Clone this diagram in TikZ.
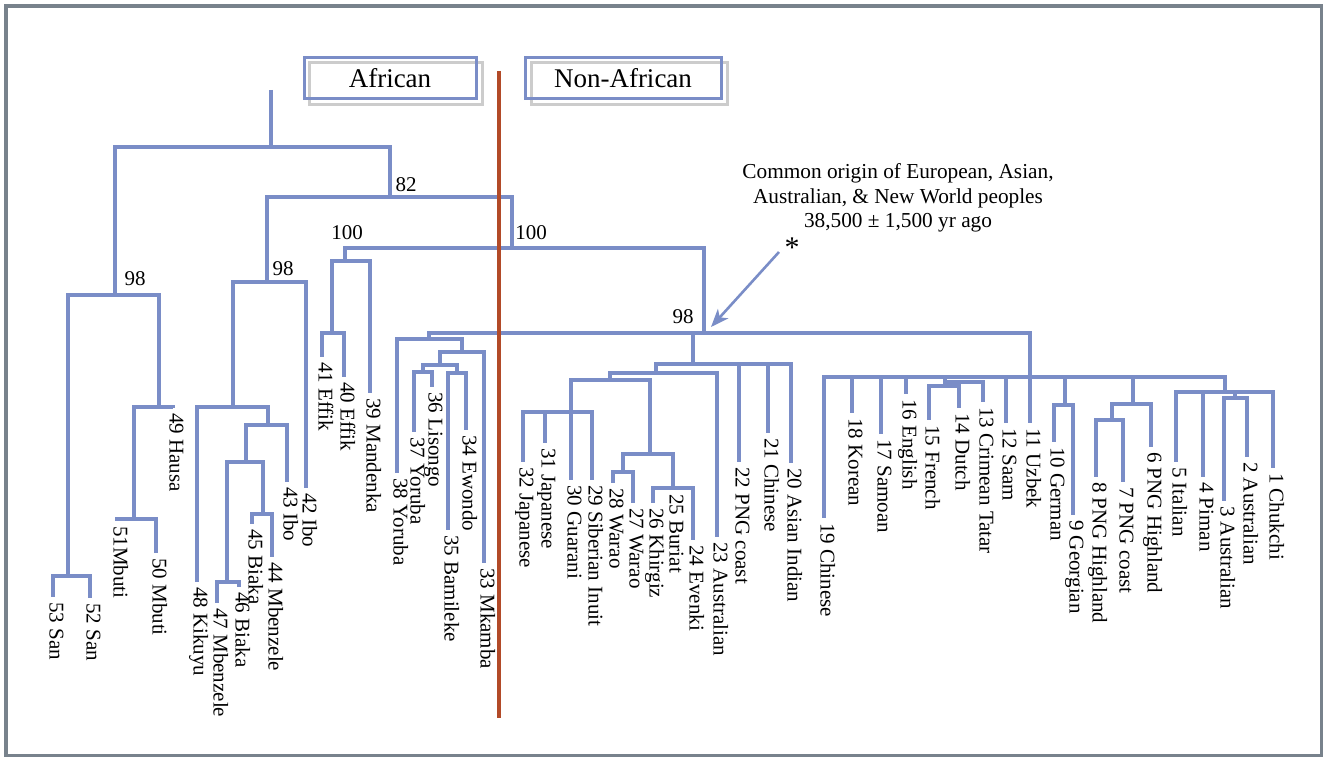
\documentclass[tikz,border=0pt]{standalone}
\usepackage{fontspec}
\setmainfont{Liberation Serif}
\usetikzlibrary{arrows.meta}
\definecolor{treeblue}{RGB}{122,141,199}
\definecolor{divred}{RGB}{178,74,40}
\definecolor{framegray}{RGB}{120,130,140}
\definecolor{shadowgray}{RGB}{204,204,204}
\newcommand{\leafpt}[4]{\coordinate (#1) at (#2,#3); \node[lbl] (#1t) at (#1) {#4};}
\newcommand{\junc}[3]{\coordinate (#1) at (#2,#3);}
\newcommand{\edgeto}[2]{\foreach \cc in {#2} {\draw[tree] (#1) -| (\cc);}}
\tikzset{
  tree/.style={draw=treeblue, line width=3.1pt},
  lbl/.style={rotate=-90, anchor=west, inner xsep=5pt, inner ysep=0pt, text height=0.68em, text depth=0pt, font=\fontsize{21}{24}\selectfont},
  num/.style={font=\fontsize{21}{24}\selectfont, inner sep=0pt},
  starlbl/.style={font=\fontsize{30}{32}\selectfont, inner sep=0pt},
  note/.style={font=\fontsize{21.3}{24.5}\selectfont, inner sep=0pt, align=center},
  boxlbl/.style={draw=treeblue, line width=3pt, font=\fontsize{27}{30}\selectfont, minimum height=41pt, inner sep=0pt},
  shadowbox/.style={draw=shadowgray, line width=3pt},
  divider/.style={draw=divred, line width=4pt},
  frame/.style={draw=framegray, line width=3.5pt},
  pointer/.style={draw=treeblue, line width=2.6pt, -{Stealth[length=18pt,width=14pt,inset=5pt]}}
}
\begin{document}
\begin{tikzpicture}[x=1pt,y=-1pt]
\useasboundingbox (0,0) rectangle (1323,757);
\draw[frame] (6,6) rectangle (1321.5,755.5);

% boxes
\draw[shadowbox] (309,63) rectangle (482,105);
\draw[shadowbox] (531,63) rectangle (727,105);
\node[boxlbl, minimum width=172pt] (afr) at (390,78.5) {African};
\node[boxlbl, minimum width=196pt] (nafr) at (623,78.5) {Non-African};

% junctions
\junc{top}{271}{90}
\junc{R}{271}{147}
\junc{A1}{115}{295}
\junc{A2}{390}{197}
\junc{S}{68}{576}
\junc{H}{159}{407}
\junc{M}{134}{519}
\junc{B}{267}{282}
\junc{C}{512}{248}
\junc{D}{233}{407}
\junc{E}{268}{425}
\junc{F}{246}{462}
\junc{G}{227}{582}
\junc{K}{263}{514}
\junc{W}{345}{261}
\junc{X}{332}{333}
\junc{NA}{704}{333}
\junc{Ya}{429}{339}
\junc{Yb}{462}{352}
\junc{Yc}{440}{365}
\junc{Yd}{423}{372}
\junc{Ye}{457}{373}
\junc{Za}{693}{364}
\junc{Zb}{656}{373}
\junc{Zc}{610}{380}
\junc{Zd}{571}{412}
\junc{Ze}{650}{454}
\junc{Zf}{623}{472}
\junc{Zg}{673}{488}
\junc{Q}{1030}{377}
\junc{Pa}{945}{382}
\junc{Pb}{945}{386}
\junc{Pc}{1065}{405}
\junc{Pd}{1133}{404}
\junc{Pe}{1112}{420}
\junc{Pf}{1225}{392}
\junc{Pg}{1235}{398}

% leaves
\leafpt{l53}{53}{597}{53 San}
\leafpt{l52}{90}{598}{52 San}
\leafpt{l51}{117}{521}{51Mbuti}
\leafpt{l50}{156}{553}{50 Mbuti}
\leafpt{l49}{173}{408}{49 Hausa}
\leafpt{l48}{197}{582}{48 Kikuyu}
\leafpt{l47}{217}{603}{47 Mbenzele}
\leafpt{l46}{239}{587}{46 Biaka}
\leafpt{l45}{252}{524}{45 Biaka}
\leafpt{l44}{272}{557}{44 Mbenzele}
\leafpt{l43}{287}{482}{43 Ibo}
\leafpt{l42}{306}{488}{42 Ibo}
\leafpt{l41}{322}{357}{41 Effik}
\leafpt{l40}{344}{377}{40 Effik}
\leafpt{l39}{370}{393}{39 Mandenka}
\leafpt{l38}{397}{473}{38 Yoruba}
\leafpt{l37}{414}{432}{37 Yoruba}
\leafpt{l36}{432}{387}{36 Lisongo}
\leafpt{l35}{448}{530}{35 Bamileke}
\leafpt{l34}{466}{430}{34 Ewondo}
\leafpt{l33}{484}{563}{33 Mkamba}
\leafpt{l32}{523}{462}{32 Japanese}
\leafpt{l31}{545}{443}{31 Japanese}
\leafpt{l30}{571}{480}{30 Guarani}
\leafpt{l29}{592}{480}{29 Siberian Inuit}
\leafpt{l28}{613}{483}{28 Warao}
\leafpt{l27}{633}{503}{27 Warao}
\leafpt{l26}{653}{503}{26 Khirgiz}
\leafpt{l25}{673}{489}{25 Buriat}
\leafpt{l24}{693}{540}{24 Evenki}
\leafpt{l23}{717}{537}{23 Australian}
\leafpt{l22}{739}{462}{22 PNG coast}
\leafpt{l21}{768}{433}{21 Chinese}
\leafpt{l20}{791}{463}{20 Asian Indian}
\leafpt{l19}{824}{518}{19 Chinese}
\leafpt{l18}{852}{413}{18 Korean}
\leafpt{l17}{881}{434}{17 Samoan}
\leafpt{l16}{906}{394}{16 English}
\leafpt{l15}{929}{420}{15 French}
\leafpt{l14}{959}{408}{14 Dutch}
\leafpt{l13}{983}{402}{13 Crimean Tatar}
\leafpt{l12}{1006}{423}{12 Saam}
\leafpt{l11}{1030}{423}{11 Uzbek}
\leafpt{l10}{1054}{442}{10 German}
\leafpt{l9}{1073}{515}{9 Georgian}
\leafpt{l8}{1096}{477}{8 PNG Highland}
\leafpt{l7}{1123}{482}{7 PNG coast}
\leafpt{l6}{1151}{447}{6 PNG Highland}
\leafpt{l5}{1176}{462}{5 Italian}
\leafpt{l4}{1203}{477}{4 Piman}
\leafpt{l3}{1224}{501}{3 Australian}
\leafpt{l2}{1247}{457}{2 Australian}
\leafpt{l1}{1273}{468}{1 Chukchi}

% tree edges
\draw[tree] (top) -- (R);
\edgeto{R}{A1,A2}
\edgeto{A1}{S,H}
\edgeto{S}{l53,l52}
\edgeto{H}{M,l49}
\edgeto{M}{l51,l50}
\edgeto{A2}{B,C}
\edgeto{B}{D,l42}
\edgeto{D}{l48,E}
\edgeto{E}{F,l43}
\edgeto{F}{G,K}
\edgeto{G}{l47,l46}
\edgeto{K}{l45,l44}
\edgeto{C}{W,NA}
\edgeto{W}{X,l39}
\edgeto{X}{l41,l40}
\edgeto{NA}{Ya,Za,Q}
\edgeto{Ya}{l38,Yb}
\edgeto{Yb}{Yc,l33}
\edgeto{Yc}{Yd,Ye}
\edgeto{Yd}{l37,l36}
\edgeto{Ye}{l35,l34}
\edgeto{Za}{Zb,l22,l21,l20}
\edgeto{Zb}{Zc,l23}
\edgeto{Zc}{Zd,Ze}
\edgeto{Zd}{l32,l31,l30,l29}
\edgeto{Ze}{Zf,Zg}
\edgeto{Zf}{l28,l27}
\edgeto{Zg}{l26,l25,l24}
\edgeto{Q}{l19,l18,l17,l16,Pa,l12,l11,Pc,Pd,Pf}
\edgeto{Pa}{Pb,l13}
\edgeto{Pb}{l15,l14}
\edgeto{Pc}{l10,l9}
\edgeto{Pd}{Pe,l6}
\edgeto{Pe}{l8,l7}
\edgeto{Pf}{l5,l4,Pg,l1}
\edgeto{Pg}{l3,l2}

% bootstrap values
\node[num] (b98a) at (135,279) {98};
\node[num] (b98b) at (283,269) {98};
\node[num] (b82) at (406,185) {82};
\node[num] (b100a) at (347,233) {100};
\node[num] (b100b) at (531,233) {100};
\node[num] (b98c) at (683,317) {98};

% divider
\coordinate (divtop) at (499,71);
\coordinate (divbot) at (499,718);
\draw[divider] (divtop) -- (divbot);

% annotation
\node[note] (ann) at (898,198) {Common origin of European, Asian,\\Australian, \& New World peoples\\38,500 ± 1,500 yr ago};
\node[starlbl] (star) at (792,248) {*};
\coordinate (arrstart) at (779,252);
\coordinate (arrtip) at (711,327);
\draw[pointer] (arrstart) -- (arrtip);
\end{tikzpicture}
\end{document}
